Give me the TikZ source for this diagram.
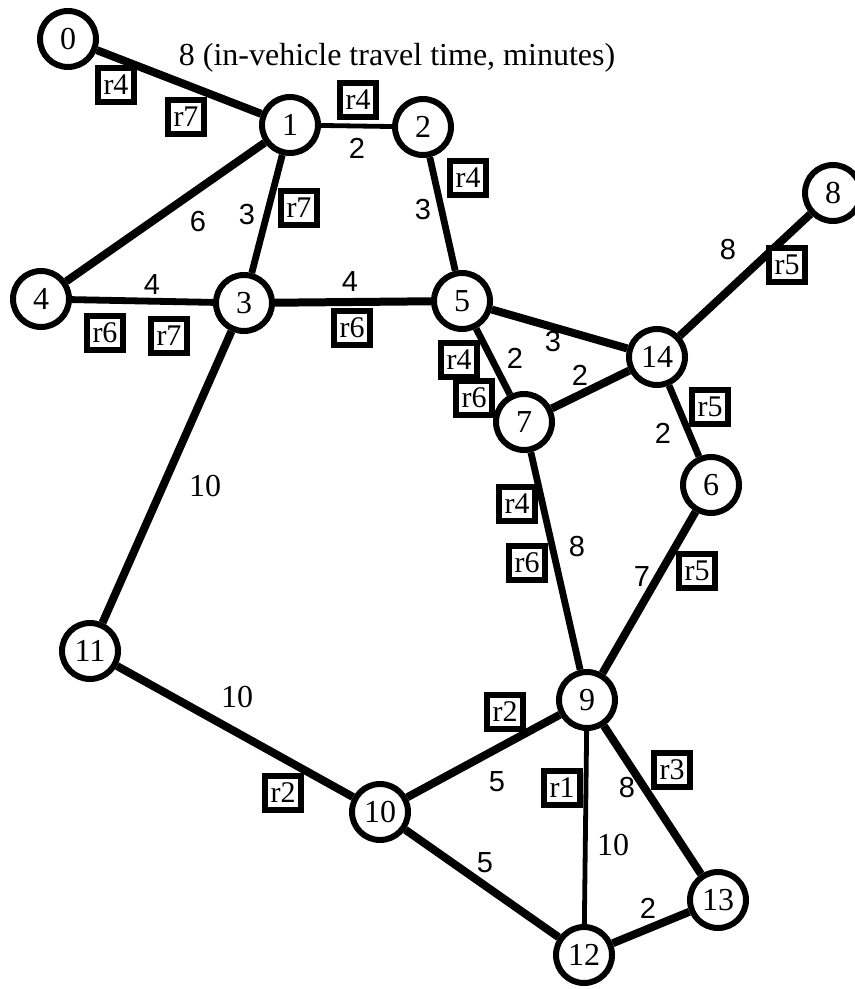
\documentclass[tikz,border=0pt]{standalone}
\usepackage{fontspec}
\setmainfont{Liberation Serif}
\newfontfamily\wtsans{Liberation Sans}
\usetikzlibrary{positioning}

\begin{document}
\begin{tikzpicture}[x=0.5pt, y=-0.5pt,
    stn/.style={draw, circle, line width=3pt, minimum size=28pt, inner sep=0pt, fill=white, font=\fontsize{16}{16}\selectfont},
    rte/.style={draw, line width=2.6pt, minimum width=18pt, minimum height=17pt, inner sep=0pt, fill=white, font=\fontsize{15}{15}\selectfont},
    wt/.style={font=\wtsans\fontsize{14.5}{14.5}\selectfont, inner sep=0pt},
    wts/.style={font=\fontsize{16}{16}\selectfont, inner sep=0pt},
    lnk/.style={line width=4pt},
    mlnk/.style={line width=3.4pt},
    tlnk/.style={line width=2.4pt}
]
\useasboundingbox (0,0) rectangle (855,989);

% stations
\node[stn] (n0) at (68,39) {0};
\node[stn] (n1) at (290,125) {1};
\node[stn] (n2) at (423,127) {2};
\node[stn] (n3) at (244,303) {3};
\node[stn] (n4) at (41,299) {4};
\node[stn] (n5) at (462,301) {5};
\node[stn] (n14) at (657,357) {14};
\node[stn] (n7) at (524,422) {7};
\node[stn] (n6) at (711,485) {6};
\node[stn] (n8) at (833,193) {8};
\node[stn] (n9) at (587,700) {9};
\node[stn] (n11) at (90,651) {11};
\node[stn] (n10) at (380,812) {10};
\node[stn] (n12) at (584,955) {12};
\node[stn] (n13) at (718,900) {13};

% links
\draw[lnk] (n0) -- (n1);
\draw[tlnk] (n1) -- (n2);
\draw[lnk] (n1) -- (n4);
\draw[mlnk] (n1) -- (n3);
\draw[mlnk] (n2) -- (n5);
\draw[mlnk] (n4) -- (n3);
\draw[lnk] (n3) -- (n5);
\draw[lnk] (n5) -- (n14);
\draw[mlnk] (n5) -- (n7);
\draw[lnk] (n7) -- (n14);
\draw[lnk] (n14) -- (n8);
\draw[mlnk] (n14) -- (n6);
\draw[lnk] (n6) -- (n9);
\draw[mlnk] (n7) -- (n9);
\draw[lnk] (n3) -- (n11);
\draw[lnk] (n11) -- (n10);
\draw[lnk] (n10) -- (n9);
\draw[lnk] (n10) -- (n12);
\draw[tlnk] (n9) -- (n12);
\draw[lnk] (n9) -- (n13);
\draw[lnk] (n12) -- (n13);

% travel times
\node[font=\fontsize{16}{16}\selectfont, inner sep=0pt] (ttl) at (397,58) {8 (in-vehicle travel time, minutes)};
\node[wt] (w12) at (357,148) {2};
\node[wt] (w14) at (198,222) {6};
\node[wt] (w13) at (247,215) {3};
\node[wt] (w25) at (423,210) {3};
\node[wt] (w43) at (152,285) {4};
\node[wt] (w35) at (350,282) {4};
\node[wt] (w57) at (515,358) {2};
\node[wt] (w514) at (553,342) {3};
\node[wt] (w714) at (580,375) {2};
\node[wt] (w148) at (728,250) {8};
\node[wt] (w146) at (663,433) {2};
\node[wt] (w79) at (577,547) {8};
\node[wt] (w69) at (642,577) {7};
\node[wts] (w311) at (205,486) {10};
\node[wts] (w1110) at (237,697) {10};
\node[wt] (w109) at (497,782) {5};
\node[wt] (w913) at (627,788) {8};
\node[wts] (w912) at (613,845) {10};
\node[wt] (w1012) at (485,863) {5};
\node[wt] (w1213) at (648,908) {2};

% routes
\node[rte] (r01a) at (116,85) {r4};
\node[rte] (r01b) at (186,117) {r7};
\node[rte] (r12) at (358,100) {r4};
\node[rte] (r13) at (299,208) {r7};
\node[rte] (r25) at (468,178) {r4};
\node[rte] (r43a) at (105,333) {r6};
\node[rte] (r43b) at (169,336) {r7};
\node[rte] (r35) at (352,328) {r6};
\node[rte] (r57a) at (459,360) {r4};
\node[rte] (r57b) at (474,398) {r6};
\node[rte] (r148) at (787,265) {r5};
\node[rte] (r146) at (710,407) {r5};
\node[rte] (r79a) at (517,504) {r4};
\node[rte] (r79b) at (527,563) {r6};
\node[rte] (r69) at (697,571) {r5};
\node[rte] (r109) at (505,712) {r2};
\node[rte] (r912) at (562,788) {r1};
\node[rte] (r913) at (672,770) {r3};
\node[rte] (r1110) at (283,793) {r2};
\end{tikzpicture}
\end{document}
